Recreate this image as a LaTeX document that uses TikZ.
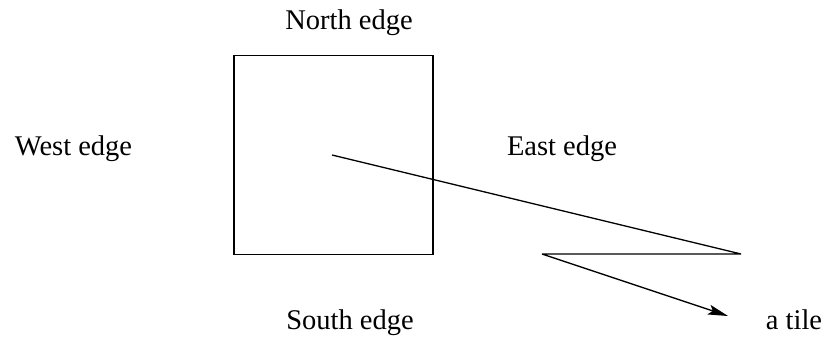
\documentclass[tikz,border=0pt]{standalone}
\usepackage{fontspec}
\setmainfont{Liberation Serif}
\usepackage{tikz}
\usetikzlibrary{positioning, arrows.meta, calc}

\begin{document}
\begin{tikzpicture}[
  x=1pt, y=-1pt,
  edgelabel/.style={font=\fontsize{28.5}{32}\selectfont, inner sep=0pt},
  tilebox/.style={draw, line width=1.4pt, minimum size=199pt, inner sep=0pt},
]
  \useasboundingbox (0,0) rectangle (826,337);
  \node[tilebox] (tile) at (333.5,155) {};
  \node[edgelabel] (north) at (349,23) {North edge};
  \node[edgelabel] (west) at (73.5,149) {West edge};
  \node[edgelabel] (east) at (562,149) {East edge};
  \node[edgelabel] (south) at (350,323) {South edge};
  \node[edgelabel, anchor=base] (atile) at (794,329) {a tile};
  % zigzag pointer to the label
  \coordinate (start) at (332,155);
  \coordinate (bendA) at (741,254);
  \coordinate (bendB) at (542,254);
  \coordinate (tip) at (728,316);
  \draw[line width=1.3pt, line join=bevel, -{Stealth[length=20pt,width=10pt,inset=4pt]}]
    (start) -- (bendA) -- (bendB) -- (tip);
\end{tikzpicture}
\end{document}
